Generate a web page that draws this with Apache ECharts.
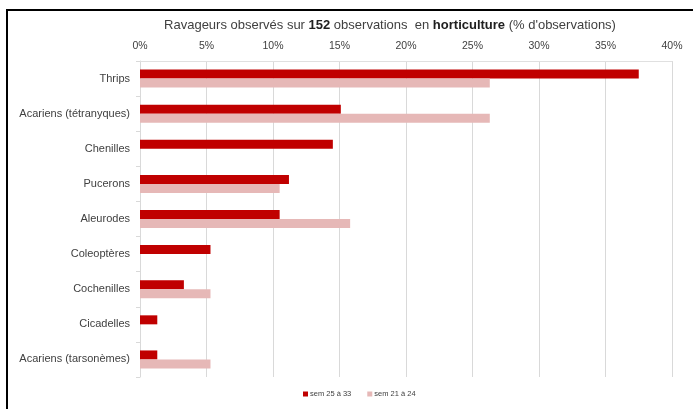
<!DOCTYPE html>
<html>
<head>
<meta charset="utf-8">
<script src="https://cdn.jsdelivr.net/npm/echarts@6/dist/echarts.min.js"></script>
<style>
  html, body { margin: 0; padding: 0; background: #ffffff; }
  #chart { width: 693px; height: 409px; }
</style>
</head>
<body>
<div id="chart"></div>
<script>
// Pest categories, listed top to bottom
const categories = [
  'Thrips',
  'Acariens (tétranyques)',
  'Chenilles',
  'Pucerons',
  'Aleurodes',
  'Coleoptères',
  'Cochenilles',
  'Cicadelles',
  'Acariens (tarsonèmes)'
];

// Share of observations (%) per period
const sem25a33 = [37.5, 15.1, 14.5, 11.2, 10.5, 5.3, 3.3, 1.3, 1.3];
const sem21a24 = [26.3, 26.3, 0, 10.5, 15.8, 0, 5.3, 0, 5.3];

const seriesNames = ['sem 25 à 33', 'sem 21 à 24'];
const seriesColors = ['#c00000', '#e6b8b7'];

const FONT = 'Liberation Sans, Arial, sans-serif';

const chart = echarts.init(document.getElementById('chart'), null, { renderer: 'canvas' });

chart.setOption({
  animation: false,
  backgroundColor: '#ffffff',
  textStyle: { fontFamily: FONT },
  title: {
    text: '{n|Ravageurs observés sur }{b|152}{n| observations  en }{b|horticulture}{n| (% d\'observations)}',
    left: 385,
    textAlign: 'center',
    top: 14,
    textStyle: {
      fontWeight: 'normal',
      rich: {
        n: { fontFamily: FONT, fontSize: 13, fontWeight: 'normal', color: '#404040' },
        b: { fontFamily: FONT, fontSize: 13, fontWeight: 'bold', color: '#202020' }
      }
    }
  },
  legend: {
    bottom: 6,
    left: 298,
    itemWidth: 5,
    itemHeight: 5,
    itemGap: 16,
    icon: 'rect',
    textStyle: { fontFamily: FONT, fontSize: 7.5, color: '#404040', padding: [0, 0, 0, -3] },
    data: seriesNames
  },
  grid: { left: 140, right: 21, top: 61, bottom: 32, containLabel: false },
  xAxis: {
    type: 'value',
    position: 'top',
    min: 0,
    max: 40,
    interval: 5,
    axisLine: { show: true, lineStyle: { color: '#e0e0e0' } },
    axisTick: { show: false },
    axisLabel: {
      formatter: '{value}%',
      fontFamily: FONT,
      fontSize: 10.5,
      color: '#404040',
      margin: 9
    },
    splitLine: { show: true, lineStyle: { color: '#d9d9d9', width: 1 } }
  },
  yAxis: {
    type: 'category',
    data: categories,
    inverse: true,
    axisLine: { show: true, lineStyle: { color: '#d9d9d9' } },
    axisTick: { show: true, length: 4, lineStyle: { color: '#d9d9d9' } },
    axisLabel: {
      fontFamily: FONT,
      fontSize: 11,
      color: '#404040',
      margin: 10
    }
  },
  series: [
    {
      name: seriesNames[0],
      type: 'bar',
      data: sem25a33,
      barWidth: 9,
      barGap: '0%',
      itemStyle: { color: seriesColors[0] }
    },
    {
      name: seriesNames[1],
      type: 'bar',
      data: sem21a24,
      barWidth: 9,
      barGap: '0%',
      itemStyle: { color: seriesColors[1] }
    }
  ],
  graphic: [
    // frame edges along the top and left sides
    { type: 'line', shape: { x1: 6, y1: 10, x2: 693, y2: 10 }, style: { stroke: '#000000', lineWidth: 2 } },
    { type: 'line', shape: { x1: 7, y1: 10, x2: 7, y2: 409 }, style: { stroke: '#000000', lineWidth: 2 } }
  ]
});
</script>
</body>
</html>
